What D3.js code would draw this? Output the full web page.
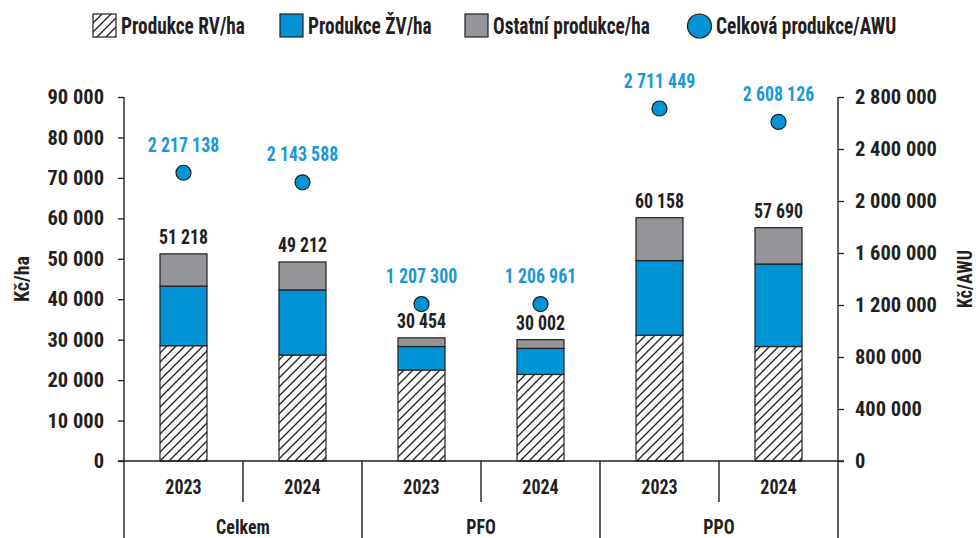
<!DOCTYPE html>
<html>
<head>
<meta charset="utf-8">
<script src="https://cdn.jsdelivr.net/npm/d3@7"></script>
<style>
  body { margin: 0; background: #fff; }
  svg text { font-family: "Liberation Sans Narrow", "Roboto Condensed", "DejaVu Sans Condensed", sans-serif; font-weight: bold; fill: #231f20; }
</style>
</head>
<body>
<script>
// data
const groups = ["Celkem", "PFO", "PPO"];
const years = ["2023", "2024"];
const rv = [28500, 26200, 22500, 21400, 31100, 28300];
const zv = [14750, 16100, 5800, 6450, 18450, 20400];
const other = [7968, 6912, 2154, 2152, 10608, 8990];
const totals = [51218, 49212, 30454, 30002, 60158, 57690];
const awu = [2217138, 2143588, 1207300, 1206961, 2711449, 2608126];
const leftTicks = d3.range(0, 90001, 10000);
const rightTicks = d3.range(0, 2800001, 400000);
const legendLabels = ["Produkce RV/ha", "Produkce ŽV/ha", "Ostatní produkce/ha", "Celková produkce/AWU"];

const ink = "#231f20", blue = "#0093d5", blueText = "#1a98d5", grey = "#939598";
const fmt = d3.formatLocale({decimal: ",", thousands: " ", grouping: [3], currency: ["", ""]}).format(",d");

// one row per group/year
const rows = [];
groups.forEach((g, gi) => years.forEach((yr, yi) => {
  const i = gi * 2 + yi;
  rows.push({key: g + yr, group: g, year: yr, rv: rv[i], zv: zv[i], other: other[i], total: totals[i], awu: awu[i]});
}));

const svg = d3.select("body").append("svg").attr("width", 976).attr("height", 538);

// hatch pattern for the RV series
svg.append("defs").append("pattern")
  .attr("id", "hatch").attr("patternUnits", "userSpaceOnUse")
  .attr("width", 9).attr("height", 9)
  .append("path")
  .attr("d", "M-1,1 l2,-2 M0,9 l9,-9 M8,10 l2,-2")
  .attr("stroke", ink).attr("stroke-width", 1.3);

const x = d3.scaleBand().domain(rows.map(d => d.key)).range([124, 838]);
const y = d3.scaleLinear().domain([0, 90000]).range([461, 97]);
const y2 = d3.scaleLinear().domain([0, 2800000]).range([461, 97]);
const barW = 47;
const cx = key => x(key) + x.bandwidth() / 2;

// squeeze text horizontally (the original font is condensed)
const place = (sel, px, py, k) => sel.attr("transform", `translate(${px},${py}) scale(${k},1)`);

// stacked bars
const stack = d3.stack().keys(["rv", "zv", "other"])(rows);
const fills = {rv: "url(#hatch)", zv: blue, other: grey};
const bars = svg.append("g");
bars.selectAll("g").data(stack).join("g")
  .attr("fill", d => fills[d.key])
  .selectAll("rect").data(d => d).join("rect")
  .attr("x", d => cx(d.data.key) - barW / 2)
  .attr("y", d => y(d[1]))
  .attr("width", barW)
  .attr("height", d => y(d[0]) - y(d[1]))
  .attr("stroke", ink).attr("stroke-width", 1.2);
// white under the hatch
bars.insert("g", "g").selectAll("rect").data(rows).join("rect")
  .attr("x", d => cx(d.key) - barW / 2)
  .attr("y", d => y(d.rv)).attr("width", barW).attr("height", d => y(0) - y(d.rv))
  .attr("fill", "#fff");

// total labels
svg.append("g").selectAll("text").data(rows).join("text")
  .attr("text-anchor", "middle").attr("font-size", 21)
  .each(function(d) { place(d3.select(this), cx(d.key), y(d.total) - 10, 0.85); })
  .text(d => fmt(d.total));

// AWU points and labels
svg.append("g").selectAll("circle").data(rows).join("circle")
  .attr("cx", d => cx(d.key))
  .attr("cy", d => y2(d.awu))
  .attr("r", 7.5)
  .attr("fill", blue).attr("stroke", ink).attr("stroke-width", 1.2);

svg.append("g").selectAll("text").data(rows).join("text")
  .attr("text-anchor", "middle").attr("font-size", 21)
  .style("fill", blueText)
  .each(function(d) { place(d3.select(this), cx(d.key), y2(d.awu) - 21, 0.85); })
  .text(d => fmt(d.awu));

// left axis
const gl = svg.append("g").attr("transform", "translate(124,0)")
  .call(d3.axisLeft(y).tickValues(leftTicks).tickSize(6).tickSizeOuter(0).tickPadding(14).tickFormat(fmt));
// right axis
const gr = svg.append("g").attr("transform", "translate(838,0)")
  .call(d3.axisRight(y2).tickValues(rightTicks).tickSize(6).tickSizeOuter(0).tickPadding(11).tickFormat(fmt));
[gl, gr].forEach(g => {
  g.select(".domain").remove();
  g.selectAll("line").attr("stroke", ink).attr("stroke-width", 1.3);
  g.selectAll("text").attr("font-size", 20.5);
});

// axis lines and category frame
const frame = svg.append("g").attr("stroke", ink).attr("stroke-width", 1.4);
frame.append("line").attr("x1", 124).attr("x2", 124).attr("y1", 97).attr("y2", 538);
frame.append("line").attr("x1", 838).attr("x2", 838).attr("y1", 97).attr("y2", 538);
frame.append("line").attr("x1", 118).attr("x2", 844).attr("y1", y(0)).attr("y2", y(0));
// short lines between years, long lines between groups
frame.selectAll(".yr").data(groups).join("line")
  .attr("x1", g => x(g + "2024")).attr("x2", g => x(g + "2024"))
  .attr("y1", y(0)).attr("y2", 502);
frame.selectAll(".gr").data(groups.slice(1)).join("line")
  .attr("x1", g => x(g + "2023")).attr("x2", g => x(g + "2023"))
  .attr("y1", y(0)).attr("y2", 538);

// category labels
svg.append("g").selectAll("text").data(rows).join("text")
  .attr("text-anchor", "middle").attr("font-size", 20)
  .each(function(d) { place(d3.select(this), cx(d.key), 494, 0.9); })
  .text(d => d.year);
svg.append("g").selectAll("text").data(groups).join("text")
  .attr("text-anchor", "middle").attr("font-size", 20)
  .each(function(g) { place(d3.select(this), x(g + "2024"), 534, 0.9); })
  .text(g => g);

// axis titles
svg.append("text").attr("text-anchor", "middle").attr("font-size", 20)
  .attr("transform", "translate(29,279) rotate(-90)").text("Kč/ha");
svg.append("text").attr("text-anchor", "middle").attr("font-size", 20)
  .attr("transform", "translate(972,279) rotate(-90) scale(0.9,1)").text("Kč/AWU");

// legend
const legX = [93, 280, 465, 687];
const leg = svg.append("g").selectAll("g").data(legendLabels).join("g")
  .attr("transform", (d, i) => `translate(${legX[i]},14)`);
leg.filter((d, i) => i < 3).append("rect")
  .attr("width", 23).attr("height", 23)
  .attr("fill", (d, i) => ["url(#hatch)", blue, grey][i])
  .attr("stroke", ink).attr("stroke-width", 1.2);
leg.filter((d, i) => i === 3).append("circle")
  .attr("cx", 12.5).attr("cy", 12).attr("r", 12)
  .attr("fill", blue).attr("stroke", ink).attr("stroke-width", 1.2);
leg.append("text").attr("font-size", 23)
  .each(function(d, i) { place(d3.select(this), i === 3 ? 29 : 28, 20, 0.84); })
  .text(d => d);
</script>
</body>
</html>
